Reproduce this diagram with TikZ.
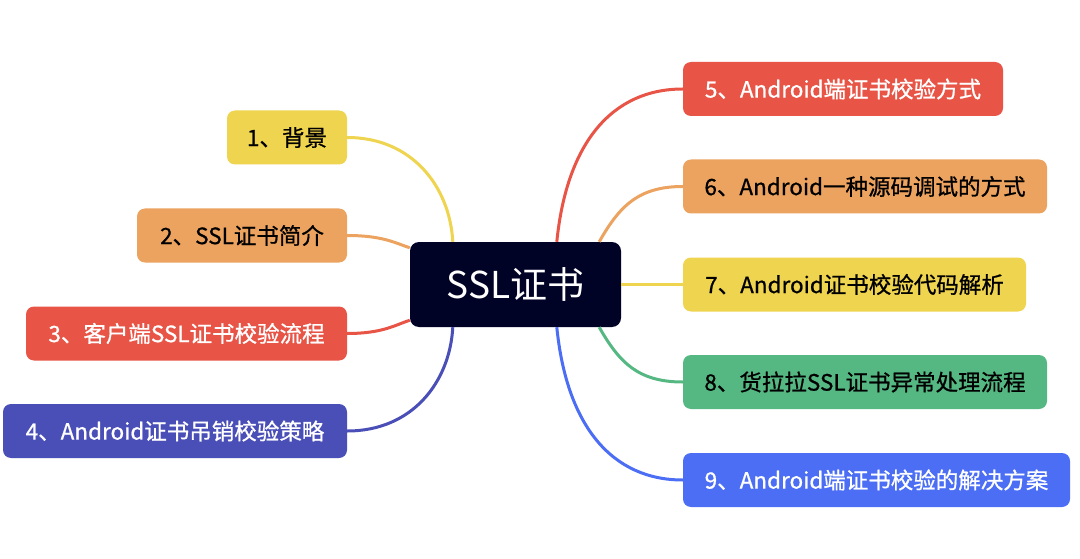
\documentclass[tikz,border=0pt]{standalone}
\usepackage{fontspec}
\setmainfont{Noto Sans CJK SC}
\newfontfamily\medfont{Noto Sans CJK SC}[FakeBold=0.8]
\usetikzlibrary{calc}
\definecolor{cdark}{HTML}{000325}
\definecolor{cyel}{HTML}{EFD44F}
\definecolor{corg}{HTML}{ECA35F}
\definecolor{cred}{HTML}{E85446}
\definecolor{cpur}{HTML}{4A4EB7}
\definecolor{cgrn}{HTML}{55B882}
\definecolor{cblu}{HTML}{4B6EF5}
\begin{document}
\begin{tikzpicture}[x=1pt,y=-1pt,
  box/.style={rounded corners=8pt, minimum height=54pt, inner sep=0pt,
    font=\medfont\fontsize{22.5}{26}\selectfont, align=center},
  link/.style={line width=3pt}]
\useasboundingbox[fill=white] (0,0) rectangle (1080,559);
% center
\node[rounded corners=9pt, fill=cdark, text=white, minimum width=211pt, minimum height=85pt,
  inner sep=0pt, font=\fontsize{37}{40}\selectfont] (c) at (515.5,284.5) {SSL证书};
% left
\node[box, fill=cyel, text=black, minimum width=120pt] (n1) at (287,137.5) {1、背景};
\node[box, fill=corg, text=black, minimum width=210pt] (n2) at (242,235.5) {2、SSL证书简介};
\node[box, fill=cred, text=white, minimum width=321pt] (n3) at (186.5,333.5) {3、客户端SSL证书校验流程};
\node[box, fill=cpur, text=white, minimum width=344pt] (n4) at (175,431) {4、Android证书吊销校验策略};
% right
\node[box, fill=cred, text=white, minimum width=320pt] (n5) at (843,89) {5、Android端证书校验方式};
\node[box, fill=corg, text=black, minimum width=364pt] (n6) at (865,186.5) {6、Android一种源码调试的方式};
\node[box, fill=cyel, text=black, minimum width=343pt] (n7) at (854.5,284.5) {7、Android证书校验代码解析};
\node[box, fill=cgrn, text=black, minimum width=364pt] (n8) at (865,382) {8、货拉拉SSL证书异常处理流程};
\node[box, fill=cblu, text=white, minimum width=387pt] (n9) at (876.5,480) {9、Android端证书校验的解决方案};
% connectors
\draw[link, cyel] (n1.east) .. controls +(65,0) and +(-3,-55) .. ($(c.north west)+(43,0)$);
\draw[link, corg] (n2.east) .. controls +(35,0) and +(-15,-5) .. ($(c.north west)+(0,6)$);
\draw[link, cred] (n3.east) .. controls +(35,0) and +(-15,5) .. ($(c.south west)+(0,-7)$);
\draw[link, cpur] (n4.east) .. controls +(65,0) and +(-3,55) .. ($(c.south west)+(43,0)$);
\draw[link, cred] ($(c.north west)+(147,0)$) .. controls +(10,-100) and +(-70,0) .. (n5.west);
\draw[link, corg] ($(c.north east)+(-22,0)$) .. controls +(20,-35) and +(-45,0) .. (n6.west);
\draw[link, cyel] (c.east) -- (n7.west);
\draw[link, cgrn] ($(c.south east)+(-22,0)$) .. controls +(20,35) and +(-45,0) .. (n8.west);
\draw[link, cblu] ($(c.south west)+(147,0)$) .. controls +(10,100) and +(-70,0) .. (n9.west);
\end{tikzpicture}
\end{document}
